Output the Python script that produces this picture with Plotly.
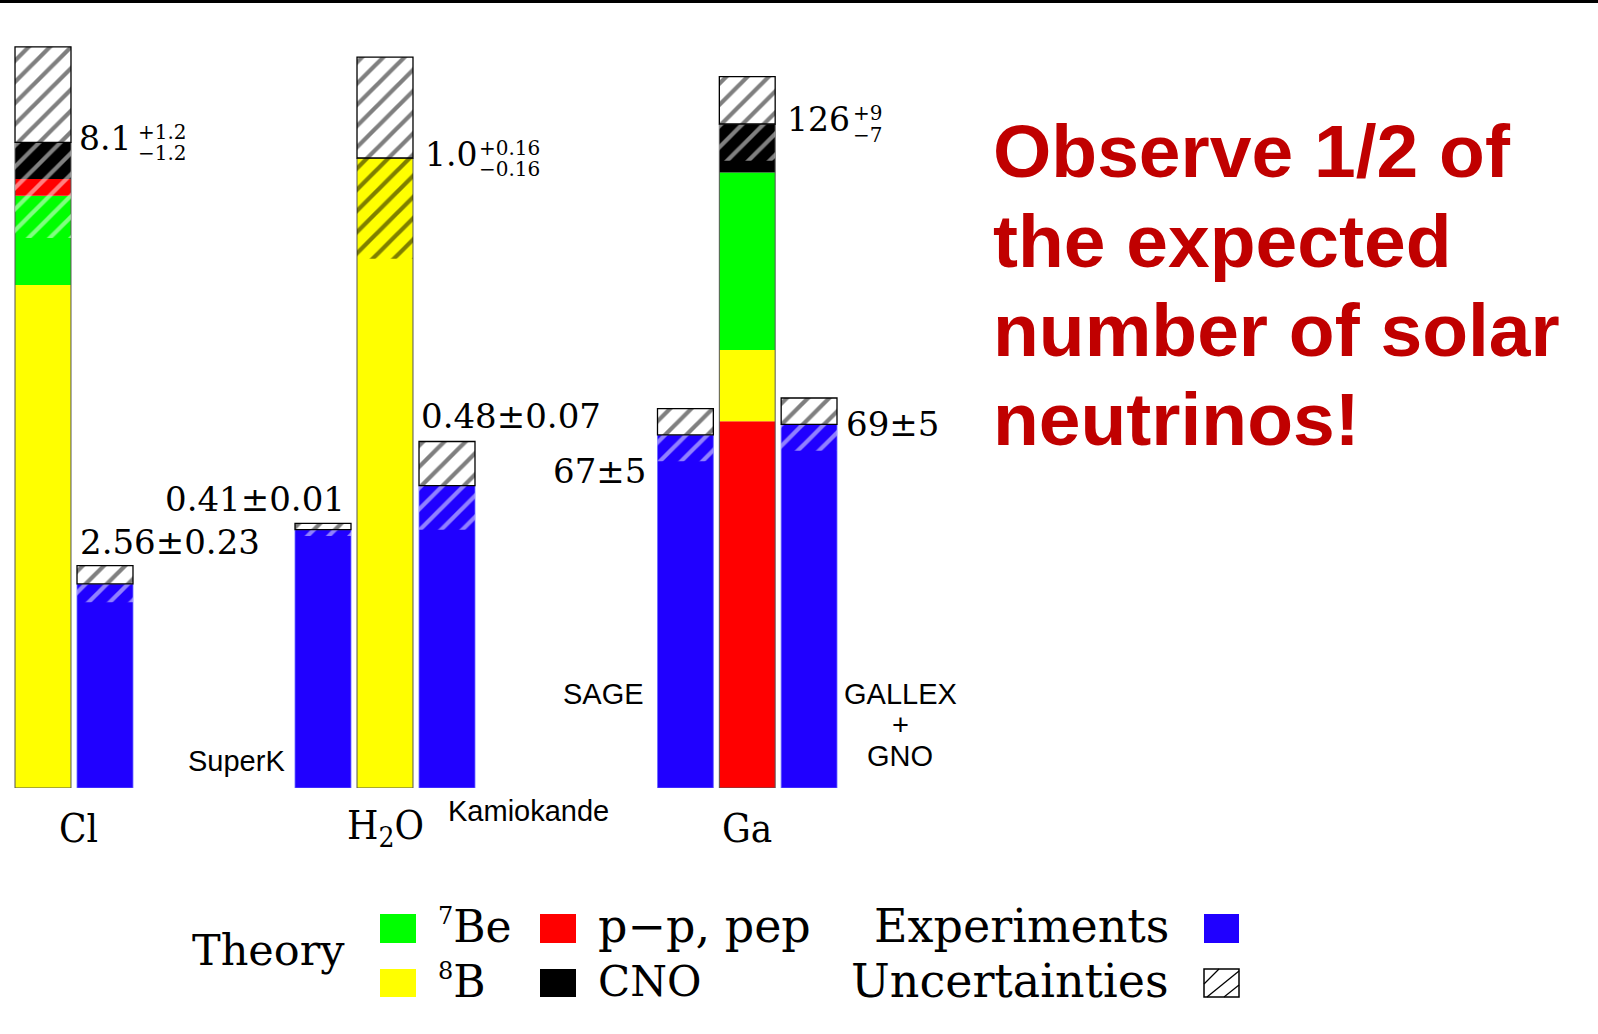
import plotly.graph_objects as go

# ---------------- data ----------------
groups = ["Cl", "H<sub>2</sub>O", "Ga"]

sources = ["7Be", "8B", "p-p, pep", "CNO"]
source_labels = ["<sup><span style='font-size:24px'>7</span></sup>Be",
                 "<sup><span style='font-size:24px'>8</span></sup>B",
                 "p\u2212p, pep", "CNO"]

# Standard-solar-model contributions (same order as `sources`)
cl_theory = [1.12, 6.31, 0.21, 0.46]     # SNU, total 8.1
h2o_theory = [0.00, 1.00, 0.00, 0.00]    # ratio to SSM, total 1.0
ga_theory = [33.7, 13.5, 69.6, 9.2]      # SNU, total 126

theory_err_plus = [1.2, 0.16, 9]
theory_err_minus = [1.2, 0.16, 7]

cl_exp_names = ["Homestake"]
cl_exp_values = [2.56]
cl_exp_errors = [0.23]

h2o_exp_names = ["SuperK", "Kamiokande"]
h2o_exp_values = [0.41, 0.48]
h2o_exp_errors = [0.01, 0.07]

ga_exp_names = ["SAGE", "GALLEX + GNO"]
ga_exp_values = [67, 69]
ga_exp_errors = [5, 5]

message_lines = ["Observe 1/2 of", "the expected", "number of solar", "neutrinos!"]

# ---------------- styling / layout ----------------
W, H = 1598, 1034
BASE = 788  # pixel row of the common bar baseline


def fx(px):
    return px / W


def fy(py):
    return 1 - py / H


SERIF = "DejaVu Serif"
SERIF_C = "DejaVu Serif Condensed, DejaVu Serif"
SANS = "Liberation Sans, Arial, sans-serif"
src_colors = {"7Be": "#00FF00", "8B": "#FFFF00", "p-p, pep": "#FF0000", "CNO": "#000000"}
EXP_COLOR = "#2000FF"
MSG_COLOR = "#C00000"
HATCH = dict(shape="/", size=15, solidity=0.28)
HALF = 28  # half bar width in px

panels = [
    dict(theory=cl_theory, stack=["8B", "7Be", "p-p, pep", "CNO"],
         names=cl_exp_names, values=cl_exp_values, errors=cl_exp_errors,
         cats=["Theory"] + cl_exp_names, px=(12, 136), ppu=79.7,
         fmt=".1f", efmt=".1f", xfmt=".2f", gap=6, sup_dx=59,
         lab=[("left", "top", -27, 24)],
         name_pos=[None], glabel_dx=4),
    dict(theory=h2o_theory, stack=["8B"],
         names=h2o_exp_names, values=h2o_exp_values, errors=h2o_exp_errors,
         cats=["SuperK", "Theory", "Kamiokande"], px=(292, 478), ppu=630,
         fmt=".1f", efmt=".2f", xfmt=".2f", gap=10, sup_dx=54,
         lab=[("right", "top", 24, 24), ("left", "top", -28, 25.5)],
         name_pos=[("right", -36, [27]), ("left", -1.5, [-23])], glabel_dx=0),
    dict(theory=ga_theory, stack=["p-p, pep", "8B", "7Be", "CNO"],
         names=ga_exp_names, values=ga_exp_values, errors=ga_exp_errors,
         cats=["SAGE", "Theory", "GALLEX + GNO"], px=(654.5, 840), ppu=5.27,
         fmt=".0f", efmt=".0f", xfmt=".0f", gap=10, sup_dx=66,
         lab=[("right", "value", -37, -36.5), ("left", "value", 35, 0)],
         name_pos=[("right", -39.5, [94]), ("center", 91, [94, 63, 32])], glabel_dx=0),
]

fig = go.Figure()
annotations = []
shapes = []


def add_bar(s, x, base, h, color, line_color=None, line_w=0, pattern=None):
    fig.add_trace(go.Bar(
        x=[x], y=[h], base=[base], xaxis="x" + s, yaxis="y" + s,
        marker=dict(color=color, line=dict(color=line_color or color, width=line_w),
                    pattern=pattern or dict(shape="")),
        showlegend=False, hoverinfo="skip"))


def ann(text, x, y, xref, yref, size, family, xanchor="left", yanchor="middle",
        xshift=0, yshift=0, color="black"):
    annotations.append(dict(text=text, x=x, y=y, xref=xref, yref=yref, showarrow=False,
                            xanchor=xanchor, yanchor=yanchor, xshift=xshift, yshift=yshift,
                            font=dict(family=family, size=size, color=color)))


axes = {}
for i, p in enumerate(panels):
    s = "" if i == 0 else str(i + 1)
    xr, yr = "x" + s, "y" + s
    axes["xaxis" + s] = dict(domain=[fx(p["px"][0]), fx(p["px"][1])], type="category",
                             categoryorder="array", categoryarray=p["cats"],
                             range=[-0.5, len(p["cats"]) - 0.5], anchor=yr, visible=False)
    axes["yaxis" + s] = dict(domain=[fy(BASE), 1], range=[0, BASE / p["ppu"]],
                             anchor=xr, visible=False)

    # --- theory stack ---
    contrib = dict(zip(sources, p["theory"]))
    base = 0.0
    for src in p["stack"]:
        add_bar(s, "Theory", base, contrib[src], src_colors[src])
        base += contrib[src]
    total = sum(p["theory"])
    add_bar(s, "Theory", 0, total, "rgba(0,0,0,0)", "#555555", 1)
    ep, em = theory_err_plus[i], theory_err_minus[i]
    top_src = p["stack"][-1]
    low_fg = "black" if src_colors[top_src] == "#FFFF00" else "white"
    add_bar(s, "Theory", total - em, em, "rgba(0,0,0,0)",
            pattern=dict(HATCH, fgcolor=low_fg, bgcolor="rgba(0,0,0,0)"))
    add_bar(s, "Theory", total, ep, "white", "black", 1.3,
            pattern=dict(HATCH, fgcolor="black", bgcolor="white"))

    # theory value label
    ann(format(total, p["fmt"]), "Theory", total, xr, yr, 33, SERIF,
        xshift=HALF + p["gap"], yshift=4)
    ann("+" + format(ep, p["efmt"]), "Theory", total, xr, yr, 20, SERIF,
        xshift=HALF + p["gap"] + p["sup_dx"], yshift=10.5)
    ann("\u2212" + format(em, p["efmt"]), "Theory", total, xr, yr, 20, SERIF,
        xshift=HALF + p["gap"] + p["sup_dx"], yshift=-11)

    # --- experiments ---
    for j, (nm, v, e) in enumerate(zip(p["names"], p["values"], p["errors"])):
        add_bar(s, nm, 0, v, EXP_COLOR, "#6A6AFF", 0.8)
        add_bar(s, nm, v - e, e, "rgba(0,0,0,0)",
                pattern=dict(HATCH, fgcolor="white", bgcolor="rgba(0,0,0,0)"))
        add_bar(s, nm, v, e, "white", "black", 1.3,
                pattern=dict(HATCH, fgcolor="black", bgcolor="white"))
        xa, ref, dx, dy = p["lab"][j]
        yv = v + e if ref == "top" else v
        ann(format(v, p["xfmt"]) + "\u00b1" + format(e, p["xfmt"]), nm, yv, xr, yr, 34, SERIF,
            xanchor=xa, xshift=dx, yshift=dy)
        npos = p["name_pos"][j]
        if npos:
            na, ndx, ndys = npos
            parts = nm.split(" ") if len(ndys) > 1 else [nm]
            for part, ndy in zip(parts, ndys):
                ann(part, nm, 0, xr, yr, 29, SANS, xanchor=na, xshift=ndx, yshift=ndy)

    # group label
    ann(groups[i], 0.5, fy(828), xr + " domain", "paper", 40, SERIF_C,
        xanchor="center", xshift=p["glabel_dx"])

# ---------------- message ----------------
for k, line in enumerate(message_lines):
    ann("<b>" + line + "</b>", fx(991), fy([151, 241, 330, 419][k]), "paper", "paper",
        75, SANS, color=MSG_COLOR)

# ---------------- custom legend ----------------
ann("Theory", fx(190), fy(950), "paper", "paper", 43, SERIF)
sq_cols = [(380, 416), (540, 576)]
sq_rows = [(914, 943), (969, 997)]
row_c = [926, 981]
lab_x = [436, 596]
lab_size = [[44, 44], [46, 42]]
for k, (src, lab) in enumerate(zip(sources, source_labels)):
    c, r = k // 2, k % 2
    shapes.append(dict(type="rect", xref="paper", yref="paper",
                       x0=fx(sq_cols[c][0]), x1=fx(sq_cols[c][1]),
                       y0=fy(sq_rows[r][1]), y1=fy(sq_rows[r][0]),
                       fillcolor=src_colors[src], line=dict(width=0)))
    ann(lab, fx(lab_x[c]), fy(row_c[r]), "paper", "paper", lab_size[c][r], SERIF)

ann("Experiments", fx(1171), fy(row_c[0]), "paper", "paper", 46, SERIF, xanchor="right")
ann("Uncertainties", fx(1171), fy(row_c[1]), "paper", "paper", 46, SERIF, xanchor="right")
shapes.append(dict(type="rect", xref="paper", yref="paper", x0=fx(1204), x1=fx(1239),
                   y0=fy(943), y1=fy(914), fillcolor=EXP_COLOR, line=dict(width=0)))
shapes.append(dict(type="rect", xref="paper", yref="paper", x0=fx(1204), x1=fx(1239),
                   y0=fy(997), y1=fy(969), fillcolor="white", line=dict(color="black", width=1.5)))
for (ax0, ay0, ax1, ay1) in [(1204, 984, 1219, 969), (1207, 997, 1239, 971), (1224, 997, 1239, 985)]:
    shapes.append(dict(type="line", xref="paper", yref="paper", x0=fx(ax0), y0=fy(ay0),
                       x1=fx(ax1), y1=fy(ay1), line=dict(color="black", width=1.3)))

# top rule
shapes.append(dict(type="rect", xref="paper", yref="paper", x0=0, x1=1, y0=fy(3), y1=1,
                   fillcolor="black", line=dict(width=0)))

fig.update_layout(
    width=W, height=H, margin=dict(l=0, r=0, t=0, b=0),
    paper_bgcolor="white", plot_bgcolor="white",
    barmode="overlay", bargap=0.097,
    showlegend=False, annotations=annotations, shapes=shapes,
    font=dict(family=SERIF, color="black"),
    **axes,
)

fig.write_html("out.html", config={"displayModeBar": False},
               post_script="document.body.style.margin='0';")
